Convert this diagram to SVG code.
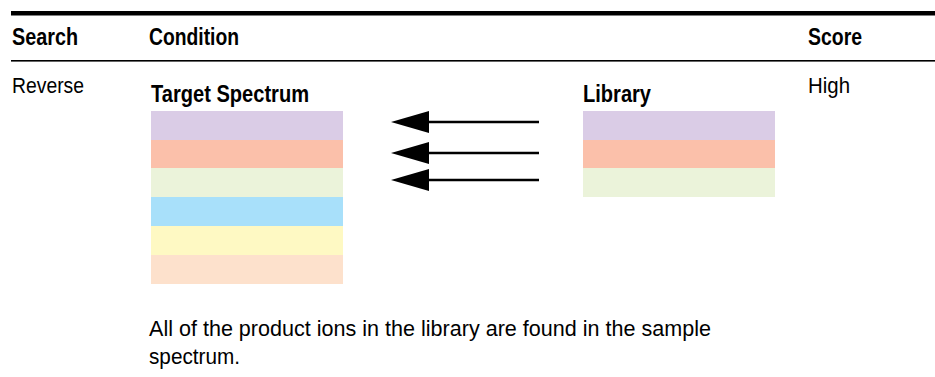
<svg xmlns="http://www.w3.org/2000/svg" width="935" height="377" viewBox="0 0 935 377">
<style>
  text { font-family: "Liberation Sans Narrow", "Liberation Sans", Arial, sans-serif; fill: #000; }
  .h { font-weight: bold; font-size: 24px; }
  .b { font-size: 22px; }
  .t { font-weight: bold; font-size: 23px; }
  .p { fill: #dacce6; } .s { fill: #fbc0aa; } .g { fill: #ebf3da; }
  .c { fill: #a8e0fa; } .y { fill: #fef9c3; } .k { fill: #fde1cc; }
  .arr { stroke: #000; stroke-width: 2.6; fill: none; }
  .head { fill: #000; }
</style>
<g id="table-rules">
  <rect x="11" y="11" width="924" height="4.5" fill="#000"/>
  <rect x="11" y="60" width="924" height="1.6" fill="#000"/>
</g>
<g id="header">
  <text class="h" x="12" y="45" textLength="66" lengthAdjust="spacingAndGlyphs">Search</text>
  <text class="h" x="149" y="45" textLength="90" lengthAdjust="spacingAndGlyphs">Condition</text>
  <text class="h" x="808" y="45" textLength="54" lengthAdjust="spacingAndGlyphs">Score</text>
</g>
<g id="row">
  <text class="b" x="12" y="93" textLength="72" lengthAdjust="spacingAndGlyphs">Reverse</text>
  <text class="b" x="808" y="93" textLength="42" lengthAdjust="spacingAndGlyphs">High</text>
</g>
<g id="target-spectrum">
  <text class="t" x="151" y="102" textLength="158" lengthAdjust="spacingAndGlyphs">Target Spectrum</text>
  <rect class="p" x="151" y="111" width="192" height="29"/>
  <rect class="s" x="151" y="140" width="192" height="28"/>
  <rect class="g" x="151" y="168" width="192" height="29"/>
  <rect class="c" x="151" y="197" width="192" height="29"/>
  <rect class="y" x="151" y="226" width="192" height="29"/>
  <rect class="k" x="151" y="255" width="192" height="29"/>
</g>
<g id="library">
  <text class="t" x="583" y="102" textLength="68" lengthAdjust="spacingAndGlyphs">Library</text>
  <rect class="p" x="583" y="111" width="192" height="29"/>
  <rect class="s" x="583" y="140" width="192" height="28"/>
  <rect class="g" x="583" y="168" width="192" height="29"/>
</g>
<g id="connectors">
  <line class="arr" x1="539" y1="122" x2="428" y2="122"/>
  <polygon class="head" points="391,122 429,111 429,133"/>
  <line class="arr" x1="539" y1="153" x2="428" y2="153"/>
  <polygon class="head" points="391,153 429,142 429,164"/>
  <line class="arr" x1="539" y1="180" x2="428" y2="180"/>
  <polygon class="head" points="391,180 429,169 429,191"/>
</g>
<g id="caption">
  <text class="b" x="149" y="336" textLength="562" lengthAdjust="spacingAndGlyphs">All of the product ions in the library are found in the sample</text>
  <text class="b" x="149" y="364" textLength="91" lengthAdjust="spacingAndGlyphs">spectrum.</text>
</g>
</svg>
